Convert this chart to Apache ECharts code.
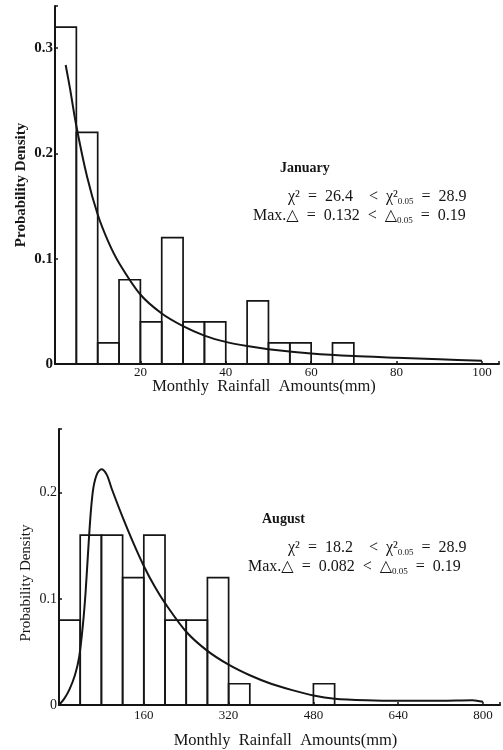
<!DOCTYPE html>
<html>
<head>
<meta charset="utf-8">
<script src="https://cdn.jsdelivr.net/npm/echarts@6/dist/echarts.min.js"></script>
<style>
  html, body { margin: 0; padding: 0; background: #fff; }
  #chart { width: 503px; height: 750px; }
</style>
</head>
<body>
<div id="chart"></div>
<script>
// January: 5 mm bins
const janEdges = [0, 5, 10, 15, 20, 25, 30, 35, 40, 45, 50, 55, 60, 65, 70]
const janDensity = [0.32, 0.22, 0.02, 0.08, 0.04, 0.12, 0.04, 0.04, 0, 0.06, 0.02, 0.02, 0, 0.02]
const janCurveX = [2.5, 3.5, 5, 7.5, 10, 12.5, 15, 20, 25, 30, 35, 40, 45, 50, 60, 70, 80, 90, 100]
const janCurveY = [0.284, 0.262, 0.226, 0.178, 0.142, 0.116, 0.096, 0.066, 0.048, 0.036, 0.027, 0.021, 0.017, 0.014, 0.010, 0.0075, 0.006, 0.0045, 0.003]

// August: 40 mm bins
const augEdges = [0, 40, 80, 120, 160, 200, 240, 280, 320, 360, 400, 440, 480, 520]
const augDensity = [0.08, 0.16, 0.16, 0.12, 0.16, 0.08, 0.08, 0.12, 0.02, 0, 0, 0, 0.02]
const augCurveX = [0, 10, 20, 30, 38, 45, 50, 55, 60, 65, 72, 80, 90, 100, 120, 140, 160, 180, 200, 240, 280, 320, 360, 400, 440, 480, 520, 580, 640, 720, 780, 800]
const augCurveY = [0, 0.006, 0.015, 0.028, 0.045, 0.075, 0.105, 0.145, 0.182, 0.205, 0.218, 0.222, 0.217, 0.203, 0.177, 0.153, 0.131, 0.112, 0.096, 0.069, 0.051, 0.038, 0.028, 0.02, 0.014, 0.009, 0.006, 0.0045, 0.004, 0.004, 0.0045, 0.003]

const janTicks = [20, 40, 60, 80, 100]
const augTicks = [160, 320, 480, 640, 800]
const yTicks = [0, 0.1, 0.2, 0.3]

const janNote = { title: 'January', chi: '26.4', chiCrit: '28.9', delta: '0.132', deltaCrit: '0.19' }
const augNote = { title: 'August', chi: '18.2', chiCrit: '28.9', delta: '0.082', deltaCrit: '0.19' }

const FONT = '"Liberation Serif", "DejaVu Serif", serif'
const INK = '#151515'
const SP = '\u2002'

const chart = echarts.init(document.getElementById('chart'))

const toBins = (edges, dens) => dens.map((d, i) => [edges[i], edges[i + 1], d])
const toLine = (xs, ys) => xs.map((x, i) => [x, ys[i]])

const renderBin = (params, api) => {
  const h = api.value(2)
  if (!h) return null
  const a = api.coord([api.value(0), 0])
  const b = api.coord([api.value(1), h])
  return {
    type: 'rect',
    shape: { x: a[0], y: b[1], width: b[0] - a[0], height: a[1] - b[1] },
    style: { fill: 'none', stroke: INK, lineWidth: 1.7 }
  }
}

const xLabel = (ticks) => (v) => ticks.includes(v) ? String(v) : ''
const yLabel = (v) => {
  const hit = yTicks.find(t => Math.abs(t - v) < 1e-6)
  if (hit === undefined) return ''
  return hit === 0 ? '0' : hit.toFixed(1)
}

const rich = {
  m: { fontFamily: FONT, fontSize: 16, lineHeight: 19, fill: INK, color: INK },
  s: { fontFamily: FONT, fontSize: 9, lineHeight: 9, verticalAlign: 'bottom', fill: INK, color: INK }
}

const noteGraphics = (note, left, top, chiLeft, maxLeft) => [
  { type: 'text', left: left, top: top, style: { text: note.title, font: 'bold 14px ' + FONT, fill: INK } },
  { type: 'text', left: chiLeft, top: top + 28, style: {
    text: `{m|χ²${SP}=${SP}${note.chi}${SP}${SP}<${SP}χ²}{s|0.05}{m|${SP}=${SP}${note.chiCrit}}`, rich: rich } },
  { type: 'text', left: maxLeft, top: top + 47, style: {
    text: `{m|Max.△${SP}=${SP}${note.delta}${SP}<${SP}△}{s|0.05}{m|${SP}=${SP}${note.deltaCrit}}`, rich: rich } }
]

const axisCommon = {
  axisLine: { show: true, onZero: false, lineStyle: { color: INK, width: 2 } },
  axisTick: { show: true, inside: true, length: 3, lineStyle: { color: INK, width: 1.5 } },
  splitLine: { show: false },
  nameMoveOverlap: false
}

const option = {
  backgroundColor: '#fff',
  animation: false,
  grid: [
    { left: 55, top: 6, width: 444, height: 358 },
    { left: 59, top: 429, width: 444, height: 276 }
  ],
  xAxis: [
    {
      ...axisCommon, type: 'value', gridIndex: 0, min: 0, max: 104, interval: 20,
      axisLabel: { formatter: xLabel(janTicks), color: INK, fontFamily: FONT, fontSize: 13, margin: 2 },
      name: 'Monthly  Rainfall  Amounts(mm)', nameLocation: 'middle', nameGap: 14,
      nameTextStyle: { fontFamily: FONT, fontSize: 16.5, color: INK, padding: [0, 26, 0, 0] }
    },
    {
      ...axisCommon, type: 'value', gridIndex: 1, min: 0, max: 832, interval: 160,
      axisLabel: { formatter: xLabel(augTicks), color: INK, fontFamily: FONT, fontSize: 13, margin: 4 },
      name: 'Monthly  Rainfall  Amounts(mm)', nameLocation: 'middle', nameGap: 27,
      nameTextStyle: { fontFamily: FONT, fontSize: 16.5, color: INK, padding: [0, 0, 0, 12] }
    }
  ],
  yAxis: [
    {
      ...axisCommon, type: 'value', gridIndex: 0, min: 0, max: 0.34, interval: 0.1,
      axisLabel: { formatter: yLabel, color: INK, fontFamily: FONT, fontSize: 15, fontWeight: 'bold', margin: 2 },
      name: 'Probability Density', nameLocation: 'middle', nameGap: 26,
      nameTextStyle: { fontFamily: FONT, fontSize: 15, fontWeight: 'bold', color: INK }
    },
    {
      ...axisCommon, type: 'value', gridIndex: 1, min: 0, max: 0.26, interval: 0.1,
      axisLabel: { formatter: yLabel, color: INK, fontFamily: FONT, fontSize: 14, margin: 2 },
      name: 'Probability Density', nameLocation: 'middle', nameGap: 25,
      nameTextStyle: { fontFamily: FONT, fontSize: 15, color: INK, padding: [0, 32, 0, 0] }
    }
  ],
  graphic: [
    ...noteGraphics(janNote, 280, 161, 288, 253),
    ...noteGraphics(augNote, 262, 512, 288, 248)
  ],
  series: [
    {
      name: 'January histogram', type: 'custom', xAxisIndex: 0, yAxisIndex: 0,
      renderItem: renderBin, data: toBins(janEdges, janDensity), silent: true
    },
    {
      name: 'January fit', type: 'line', xAxisIndex: 0, yAxisIndex: 0,
      data: toLine(janCurveX, janCurveY), showSymbol: false, smooth: 0.3,
      lineStyle: { color: INK, width: 2 }, z: 5
    },
    {
      name: 'August histogram', type: 'custom', xAxisIndex: 1, yAxisIndex: 1,
      renderItem: renderBin, data: toBins(augEdges, augDensity), silent: true
    },
    {
      name: 'August fit', type: 'line', xAxisIndex: 1, yAxisIndex: 1,
      data: toLine(augCurveX, augCurveY), showSymbol: false, smooth: 0.3,
      lineStyle: { color: INK, width: 2 }, z: 5
    }
  ]
}

chart.setOption(option)
</script>
</body>
</html>
